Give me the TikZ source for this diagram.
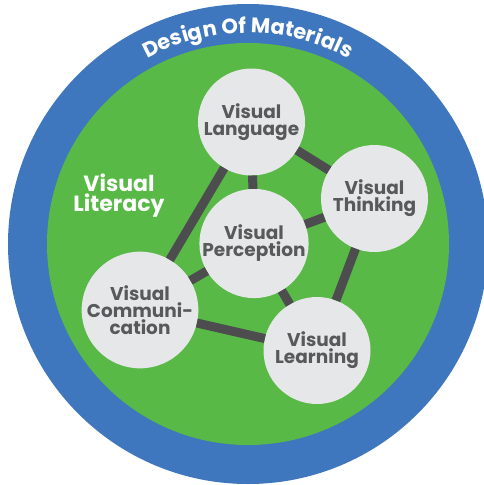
\documentclass[tikz,border=0pt]{standalone}
\usepackage{fontspec}
\setmainfont{Poppins}
\usetikzlibrary{decorations.text}
\definecolor{ringblue}{HTML}{3E77BD}
\definecolor{fieldgreen}{HTML}{58B947}
\definecolor{bubblegrey}{HTML}{E6E7E8}
\definecolor{inkgrey}{HTML}{58595B}
\definecolor{linkgrey}{HTML}{4D4D4F}
\tikzset{
  x=1pt, y=-1pt,
  bubble/.style={circle, fill=bubblegrey, minimum size=107pt, inner sep=0pt,
    outer sep=0pt, align=center, text=inkgrey,
    font=\bfseries\fontsize{18.5}{17}\selectfont},
  link/.style={draw=linkgrey, line width=9pt},
  literacy/.style={align=center, text=white, font=\bfseries\fontsize{22}{20}\selectfont},
}
\begin{document}
\begin{tikzpicture}
  \useasboundingbox (0,0) rectangle (483,485);

  % rings
  \coordinate (mid) at (248,244);
  \fill[ringblue] (mid) circle[radius=240pt];
  \fill[fieldgreen] (mid) circle[radius=201pt];
  \path[decorate, decoration={text along path, text align=center,
      text={|\color{white}\bfseries\fontsize{21}{21}\selectfont|Design Of Materials}}]
    (mid) ++(150:211pt) arc[start angle=150, end angle=30, radius=211pt];

  % bubbles
  \node[bubble] (lang) at (251.5,122) {Visual\\Language};
  \node[bubble] (think) at (374.5,198.5) {Visual\\Thinking};
  \node[bubble] (perc) at (254,243.5) {Visual\\Perception};
  \node[bubble] (comm) at (140,310) {Visual\\Communi-\\cation};
  \node[bubble] (learn) at (317,350.5) {Visual\\Learning};
  \node[literacy] (lit) at (119,196) {Visual\\Literacy};

  % links
  \draw[link] (lang) -- (think);
  \draw[link] (lang) -- (perc);
  \draw[link] (lang) -- (comm);
  \draw[link] (think) -- (perc);
  \draw[link] (think) -- (learn);
  \draw[link] (perc) -- (comm);
  \draw[link] (perc) -- (learn);
  \draw[link] (comm) -- (learn);
\end{tikzpicture}
\end{document}
